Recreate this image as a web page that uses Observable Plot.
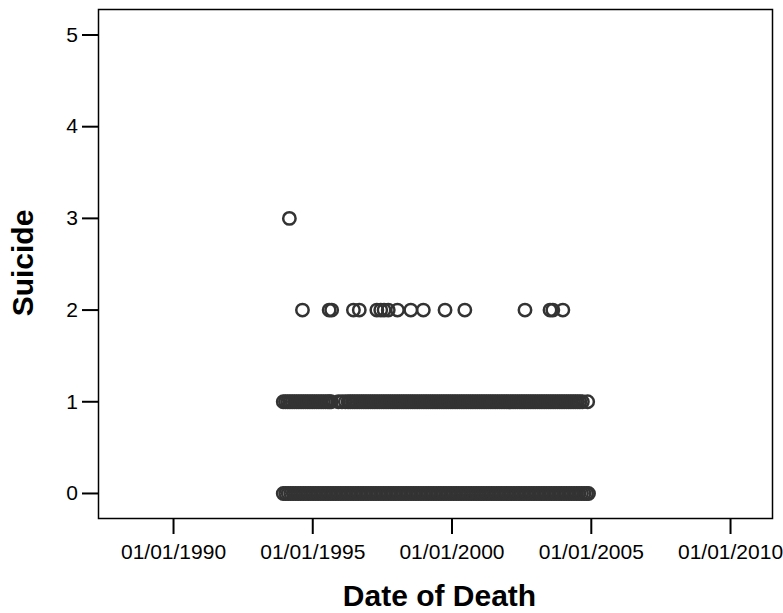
<!DOCTYPE html>
<html>
<head>
<meta charset="utf-8">
<script src="https://cdn.jsdelivr.net/npm/d3@7"></script>
<script src="https://cdn.jsdelivr.net/npm/@observablehq/plot@0.6"></script>
<style>
  html, body { margin: 0; padding: 0; background: #fff; }
</style>
</head>
<body>
<div id="chart"></div>
<script>
// Dates of death as decimal years, grouped by number of suicides
const suicide0 = [
  1993.94, 1994.03, 1994.12, 1994.21, 1994.30, 1994.39, 1994.48, 1994.57, 1994.66, 1994.75, 1994.84, 1994.93,
  1995.02, 1995.11, 1995.20, 1995.29, 1995.38, 1995.47, 1995.56, 1995.65, 1995.74, 1995.83, 1995.92,
  1996.01, 1996.10, 1996.19, 1996.28, 1996.37, 1996.46, 1996.55, 1996.64, 1996.73, 1996.82, 1996.91,
  1997.00, 1997.09, 1997.18, 1997.27, 1997.36, 1997.45, 1997.54, 1997.63, 1997.72, 1997.81, 1997.90, 1997.99,
  1998.08, 1998.17, 1998.26, 1998.35, 1998.44, 1998.53, 1998.62, 1998.71, 1998.80, 1998.89, 1998.98,
  1999.07, 1999.16, 1999.25, 1999.34, 1999.43, 1999.52, 1999.61, 1999.70, 1999.79, 1999.88, 1999.97,
  2000.06, 2000.15, 2000.24, 2000.33, 2000.42, 2000.51, 2000.60, 2000.69, 2000.78, 2000.87, 2000.96,
  2001.05, 2001.14, 2001.23, 2001.32, 2001.41, 2001.50, 2001.59, 2001.68, 2001.77, 2001.86, 2001.95,
  2002.04, 2002.13, 2002.22, 2002.31, 2002.40, 2002.49, 2002.58, 2002.67, 2002.76, 2002.85, 2002.94,
  2003.03, 2003.12, 2003.21, 2003.30, 2003.39, 2003.48, 2003.57, 2003.66, 2003.75, 2003.84, 2003.93,
  2004.02, 2004.11, 2004.20, 2004.29, 2004.38, 2004.47, 2004.56, 2004.65, 2004.74, 2004.83, 2004.90
];
const suicide1 = [
  1993.94, 1994.02, 1994.10, 1994.18, 1994.26, 1994.34, 1994.42, 1994.50, 1994.58, 1994.66, 1994.74, 1994.82,
  1994.90, 1994.98, 1995.06, 1995.14, 1995.22, 1995.30, 1995.38, 1995.46, 1995.54, 1995.60, 1995.66,
  1995.92, 1996.05, 1996.17,
  1996.27, 1996.35, 1996.43, 1996.51, 1996.59, 1996.67, 1996.75, 1996.83, 1996.91, 1996.99,
  1997.07, 1997.15, 1997.23, 1997.31, 1997.39, 1997.47, 1997.55, 1997.63, 1997.71, 1997.79, 1997.87, 1997.95,
  1998.03, 1998.11, 1998.19, 1998.27, 1998.35, 1998.43, 1998.51, 1998.59, 1998.67, 1998.75, 1998.83, 1998.91, 1998.99,
  1999.07, 1999.15, 1999.23, 1999.31, 1999.39, 1999.47, 1999.55, 1999.63, 1999.71, 1999.79, 1999.87, 1999.95,
  2000.03, 2000.11, 2000.19, 2000.27, 2000.35, 2000.43, 2000.51, 2000.59, 2000.67, 2000.75, 2000.83, 2000.91, 2000.99,
  2001.07, 2001.15, 2001.23, 2001.31, 2001.39, 2001.47, 2001.55, 2001.63, 2001.71, 2001.79, 2001.87, 2001.95,
  2002.03, 2002.11, 2002.19, 2002.27, 2002.35, 2002.43, 2002.51, 2002.59, 2002.67, 2002.75, 2002.83, 2002.91, 2002.99,
  2003.07, 2003.15, 2003.23, 2003.31, 2003.39, 2003.47, 2003.55, 2003.63, 2003.71, 2003.79, 2003.87, 2003.95,
  2004.03, 2004.11, 2004.19, 2004.27, 2004.35, 2004.43, 2004.51, 2004.59, 2004.68, 2004.87
];
const suicide2 = [
  1994.63, 1995.59, 1995.68, 1996.46, 1996.67, 1997.30, 1997.44, 1997.56, 1997.71,
  1998.04, 1998.52, 1998.97, 1999.75, 2000.46, 2002.62, 2003.52, 2003.62, 2003.98
];
const suicide3 = [1994.16];

const xTickYears = [1990, 1995, 2000, 2005, 2010];
const yTicks = [0, 1, 2, 3, 4, 5];
const xDomainYears = [1987.307, 2011.508];
const yDomain = [-0.273, 5.278];

function toDate(y) {
  const yr = Math.floor(y);
  const start = Date.UTC(yr, 0, 1), end = Date.UTC(yr + 1, 0, 1);
  return new Date(start + (y - yr) * (end - start));
}

const data = [
  ...suicide0.map(d => ({date: toDate(d), suicide: 0})),
  ...suicide1.map(d => ({date: toDate(d), suicide: 1})),
  ...suicide2.map(d => ({date: toDate(d), suicide: 2})),
  ...suicide3.map(d => ({date: toDate(d), suicide: 3}))
];

const font = "'Liberation Sans', Arial, Helvetica, sans-serif";

const chart = Plot.plot({
  width: 783,
  height: 613,
  marginLeft: 98,
  marginRight: 11,
  marginTop: 9,
  marginBottom: 95,
  style: {fontFamily: font, fontSize: "21px", color: "#000", background: "#fff", overflow: "visible"},
  x: {type: "utc", domain: xDomainYears.map(toDate)},
  y: {domain: yDomain},
  marks: [
    Plot.frame({stroke: "#000", strokeWidth: 1.5}),
    Plot.axisX({
      ticks: xTickYears.map(y => new Date(Date.UTC(y, 0, 1))),
      tickFormat: d3.utcFormat("%m/%d/%Y"),
      tickSize: 16, tickPadding: 9.5, strokeWidth: 2, label: null, fontSize: 21
    }),
    Plot.axisY({
      ticks: yTicks, tickFormat: d3.format("d"),
      tickSize: 16, tickPadding: 4.5, strokeWidth: 2, label: null, fontSize: 21
    }),
    Plot.dot(data, {x: "date", y: "suicide", r: 6.2, stroke: "#333", strokeWidth: 2.5, fill: "none"}),
    Plot.text(["Date of Death"], {
      text: d => d, frameAnchor: "bottom", dy: 77.5, dx: 4, lineAnchor: "middle", textAnchor: "middle",
      fontSize: 30, fontWeight: "bold", fill: "#000"
    }),
    Plot.text(["Suicide"], {
      text: d => d, frameAnchor: "left", dx: -75, dy: -1, rotate: -90, lineAnchor: "middle", textAnchor: "middle",
      fontSize: 30, fontWeight: "bold", fill: "#000"
    })
  ]
});
document.getElementById("chart").appendChild(chart);
</script>
</body>
</html>
